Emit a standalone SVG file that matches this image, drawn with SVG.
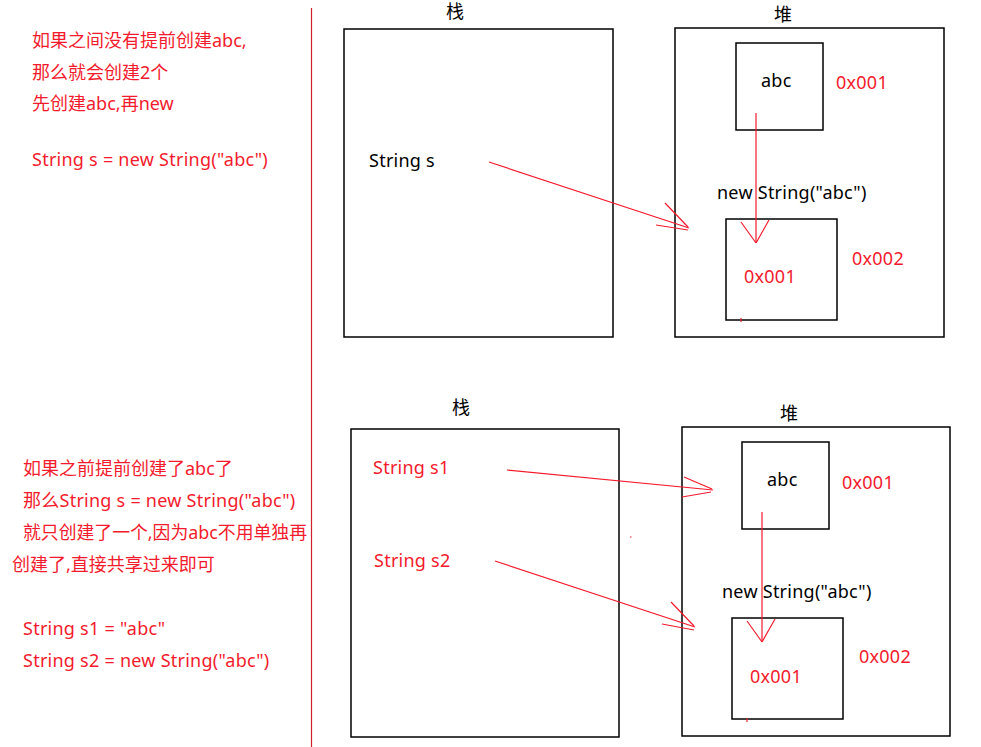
<svg xmlns="http://www.w3.org/2000/svg" width="981" height="747" viewBox="0 0 981 747">
<style>
text{font-family:"Noto Sans","Noto Sans CJK SC",sans-serif;font-size:18px;letter-spacing:0.25px}
.cj{letter-spacing:0}
.r{fill:#f21b2d}
.k{fill:#000}
.box{fill:none;stroke:#000;stroke-width:1.5}
.ln{stroke:#f21b2d;stroke-width:1.2;fill:none}
</style>
<rect width="981" height="747" fill="#fff"/>
<line x1="311.5" y1="8" x2="311.5" y2="747" stroke="#d11f2f" stroke-width="1.2"/>
<g id="note-top">
<text class="r cj" x="32" y="47">如果之间没有提前创建abc,</text>
<text class="r cj" x="32" y="79">那么就会创建2个</text>
<text class="r cj" x="32" y="110">先创建abc,再new</text>
<text class="r" x="32" y="166">String s = new String("abc")</text>
</g>
<g id="note-bottom">
<text class="r cj" x="23" y="475">如果之前提前创建了abc了</text>
<text class="r" x="23" y="507">那么String s = new String("abc")</text>
<text class="r cj" x="23" y="539" textLength="284" lengthAdjust="spacingAndGlyphs">就只创建了一个,因为abc不用单独再</text>
<text class="r cj" x="12" y="571">创建了,直接共享过来即可</text>
<text class="r" x="23" y="635">String s1 = "abc"</text>
<text class="r" x="23" y="667">String s2 = new String("abc")</text>
</g>
<g id="stack1">
<text class="k" x="455" y="18" text-anchor="middle" font-size="16">栈</text>
<rect class="box" x="344" y="29" width="269" height="308"/>
<text class="k" x="369" y="167">String s</text>
</g>
<g id="heap1">
<text class="k" x="783" y="21" text-anchor="middle" font-size="17">堆</text>
<rect class="box" x="675" y="28" width="269" height="309"/>
</g>
<g id="abc1">
<rect class="box" x="736" y="43" width="87" height="87"/>
<text class="k" x="761" y="87">abc</text>
<text class="r" x="836" y="89">0x001</text>
</g>
<g id="newstr1">
<text class="k" x="717" y="199">new String("abc")</text>
<rect class="box" x="726" y="219" width="111" height="101"/>
<text class="r" x="744" y="283">0x001</text>
<text class="r" x="852" y="265">0x002</text>
</g>
<g id="stack2">
<text class="k" x="461" y="414" text-anchor="middle" font-size="17">栈</text>
<rect class="box" x="351" y="429" width="268" height="308"/>
<text class="r" x="373" y="474">String s1</text>
<text class="r" x="374" y="567">String s2</text>
</g>
<g id="heap2">
<text class="k" x="789" y="420" text-anchor="middle" font-size="17">堆</text>
<rect class="box" x="682" y="427" width="268" height="309"/>
</g>
<g id="abc2">
<rect class="box" x="742" y="442" width="87" height="87"/>
<text class="k" x="767" y="486">abc</text>
<text class="r" x="842" y="489">0x001</text>
</g>
<g id="newstr2">
<text class="k" x="722" y="598">new String("abc")</text>
<rect class="box" x="732" y="618" width="111" height="101"/>
<text class="r" x="750" y="683">0x001</text>
<text class="r" x="859" y="663">0x002</text>
</g>
<g id="connectors" class="ln">
<line x1="489" y1="162" x2="689" y2="228"/>
<line x1="665" y1="203" x2="688" y2="227"/>
<line x1="656" y1="225" x2="688" y2="230"/>
<line x1="756" y1="113" x2="756" y2="243"/>
<line x1="741" y1="222" x2="756" y2="243"/>
<line x1="769" y1="220" x2="756" y2="243"/>
<line x1="741" y1="318" x2="741" y2="322"/>
<line x1="507" y1="470" x2="713" y2="490"/>
<line x1="684" y1="477" x2="712" y2="489"/>
<line x1="682" y1="497" x2="711" y2="492"/>
<line x1="495" y1="561" x2="695" y2="627"/>
<line x1="671" y1="602" x2="694" y2="626"/>
<line x1="662" y1="624" x2="694" y2="630"/>
<line x1="762" y1="512" x2="762" y2="642"/>
<line x1="747" y1="621" x2="762" y2="642"/>
<line x1="775" y1="619" x2="762" y2="642"/>
<line x1="747" y1="718" x2="747" y2="722"/>
<line x1="630" y1="537" x2="631.5" y2="537"/>
</g>
</svg>
